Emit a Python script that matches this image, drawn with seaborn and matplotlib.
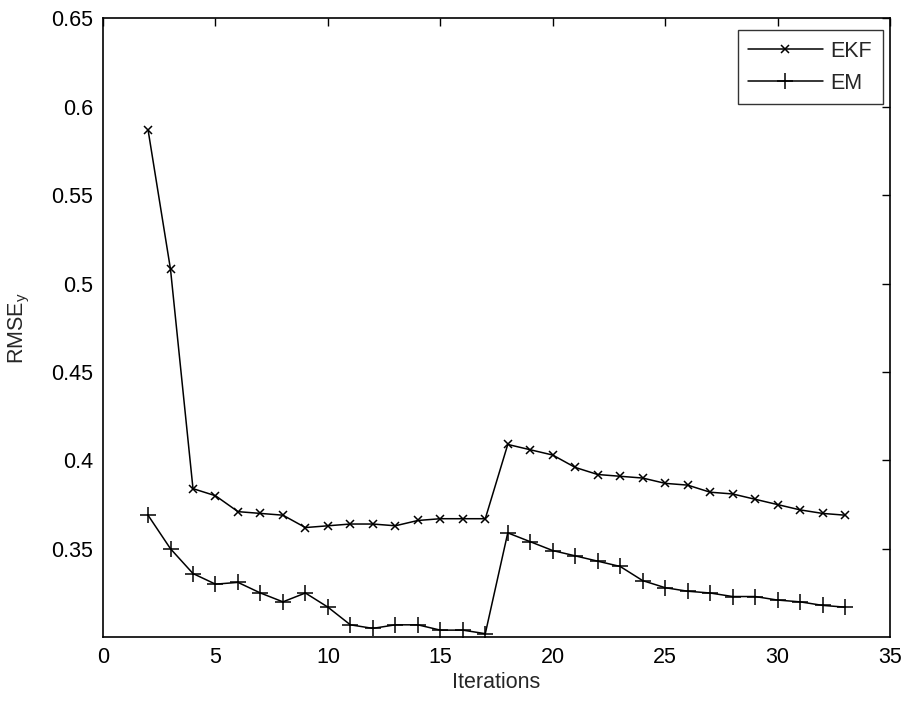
import matplotlib
matplotlib.use("Agg")
import matplotlib.pyplot as plt
import seaborn as sns
import pandas as pd

iterations = list(range(2, 34))

ekf = [0.587, 0.508, 0.384, 0.380, 0.371, 0.370, 0.369, 0.362, 0.363, 0.364,
       0.364, 0.363, 0.366, 0.367, 0.367, 0.367, 0.409, 0.406, 0.403, 0.396,
       0.392, 0.391, 0.390, 0.387, 0.386, 0.382, 0.381, 0.378, 0.375, 0.372,
       0.370, 0.369]

em = [0.369, 0.350, 0.336, 0.330, 0.331, 0.325, 0.320, 0.325, 0.317, 0.307,
      0.305, 0.307, 0.307, 0.304, 0.304, 0.302, 0.359, 0.354, 0.349, 0.346,
      0.343, 0.340, 0.332, 0.328, 0.326, 0.325, 0.323, 0.323, 0.321, 0.320,
      0.318, 0.317]

df = pd.DataFrame({
    "Iterations": iterations * 2,
    "RMSE": ekf + em,
    "method": ["EKF"] * len(ekf) + ["EM"] * len(em),
})

sns.set_theme(style="white")
plt.rcParams["font.family"] = ["Liberation Sans", "DejaVu Sans"]
plt.rcParams["mathtext.fontset"] = "custom"
plt.rcParams["mathtext.rm"] = "Liberation Sans"
plt.rcParams["mathtext.it"] = "Liberation Sans"

fs = 15.5

fig = plt.figure(figsize=(9.04, 7.01), dpi=100)
ax = fig.add_axes([0.114, 0.091, 0.8705, 0.883])

sns.lineplot(data=df, x="Iterations", y="RMSE", hue="method", style="method",
             markers={"EKF": "x", "EM": "+"}, dashes=False,
             palette={"EKF": "black", "EM": "black"}, linewidth=1.1,
             ax=ax, legend=False)
# seaborn paints marker edges white; make them black again
for line, ms in zip(ax.lines, [6, 11]):
    line.set_markeredgecolor("black")
    line.set_markerfacecolor("black")
    line.set_markersize(ms)
    line.set_markeredgewidth(1.1)

ax.set_xlim(0, 35)
ax.set_ylim(0.30, 0.65)
ax.set_xticks(range(0, 36, 5))
ax.set_yticks([0.35, 0.4, 0.45, 0.5, 0.55, 0.6, 0.65])
ax.set_yticklabels(["0.35", "0.4", "0.45", "0.5", "0.55", "0.6", "0.65"])
ax.tick_params(direction="in", top=True, right=True, length=6, width=1,
               labelsize=fs, colors="black")
ax.tick_params(axis="x", pad=7)
ax.tick_params(axis="y", pad=7)
for s in ax.spines.values():
    s.set_color("black")
    s.set_linewidth(1.2)

ax.set_xlabel("Iterations", fontsize=fs, labelpad=3)
ax.set_ylabel("RMSE$_y$", fontsize=fs, labelpad=14)

leg = ax.legend(ax.lines, ["EKF", "EM"], loc="upper right",
                bbox_to_anchor=(0.991, 0.981), borderaxespad=0, fontsize=fs,
                frameon=True, fancybox=False, edgecolor="black",
                handlelength=3.45, handletextpad=0.37, borderpad=0.5,
                labelspacing=0.5)
leg.get_frame().set_linewidth(1.0)

fig.savefig("out.png", dpi=100)
